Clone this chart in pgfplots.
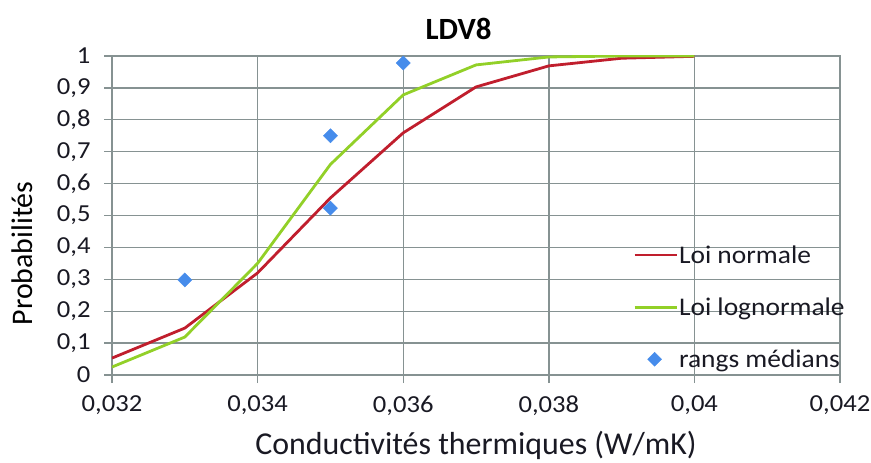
\documentclass[border=0pt]{standalone}
\usepackage{fontspec}
\setmainfont{Carlito}
\newfontfamily\tickfont[FakeStretch=1.09]{Carlito}
\newfontfamily\legfont[FakeStretch=1.08]{Carlito}
\usepackage{pgfplots}
\pgfplotsset{compat=1.18}

\definecolor{gridc}{RGB}{134,146,146}
\definecolor{loinorm}{RGB}{192,30,45}
\definecolor{loilog}{RGB}{146,208,40}
\definecolor{rangs}{RGB}{70,140,235}
\definecolor{txt}{RGB}{25,25,35}

\pgfplotsset{
  lineleg/.style={legend image code/.code={\draw[##1] (0bp,0bp) -- (42bp,0bp);}},
  markleg/.style={legend image code/.code={\draw[##1] plot coordinates {(20bp,0bp)};}},
}

\begin{document}
\begin{tikzpicture}
\begin{axis}[
  scale only axis,
  width=728bp, height=319bp,
  xmin=0.032, xmax=0.042, ymin=0, ymax=1,
  xtick={0.032,0.034,0.036,0.038,0.04,0.042},
  ytick={0,0.1,0.2,0.3,0.4,0.5,0.6,0.7,0.8,0.9,1},
  scaled x ticks=false,
  /pgf/number format/use comma,
  /pgf/number format/fixed,
  /pgf/number format/precision=3,
  /pgf/number format/assume math mode=true,
  grid=major,
  grid style={gridc, line width=1.4bp},
  axis line style={gridc, line width=1.4bp},
  tick style={gridc, line width=1.4bp},
  tick align=outside,
  major tick length=8bp,
  xtick pos=bottom, ytick pos=left,
  tick label style={font=\tickfont\fontsize{24.5}{29}\selectfont, text=txt},
  yticklabel style={xshift=-10bp},
  xticklabel style={yshift=-9bp},
  title={LDV8},
  title style={at={(rel axis cs:0.476,1)}, anchor=base, yshift=11bp,
    font=\fontsize{31}{36}\selectfont\bfseries, text=black},
  xlabel={Conductivités thermiques (W/mK)},
  xlabel style={at={(rel axis cs:0.5,0)}, anchor=base, yshift=-79bp,
    font=\fontsize{32}{36}\selectfont, text=txt},
  ylabel={Probabilités},
  ylabel style={at={(rel axis cs:0,0.381)}, anchor=base, yshift=79bp,
    font=\fontsize{30}{36}\selectfont, text=black},
  legend style={at={(rel axis cs:0.7157,0.41)}, anchor=north west,
    draw=none, fill=none, inner sep=0pt, row sep=31bp,
    font=\legfont\fontsize{25.5}{30}\selectfont,
    nodes={inner sep=1bp, text=txt}},
  legend cell align=left,
]
\addplot[loinorm, line width=2.8bp, lineleg] coordinates {
  (0.032,0.053) (0.033,0.147) (0.034,0.320) (0.035,0.555) (0.036,0.759)
  (0.037,0.903) (0.038,0.969) (0.039,0.993) (0.040,0.999)};
\addlegendentry{Loi normale}
\addplot[loilog, line width=2.8bp, lineleg] coordinates {
  (0.032,0.025) (0.033,0.119) (0.034,0.350) (0.035,0.660) (0.036,0.878)
  (0.037,0.972) (0.038,0.997) (0.039,1.000) (0.040,1.000)};
\addlegendentry{Loi lognormale}
\addplot[only marks, mark=square*, mark size=5bp,
  mark options={rotate=45, fill=rangs, draw=rangs}, markleg] coordinates {
  (0.033,0.298) (0.035,0.523) (0.035,0.750) (0.036,0.978)};
\addlegendentry{rangs médians}
\coordinate (BL) at ([xshift=-112bp,yshift=-88bp]rel axis cs:0,0);
\coordinate (TR) at ([xshift=31bp,yshift=56bp]rel axis cs:1,1);
\end{axis}
\pgfresetboundingbox
\path (BL) rectangle (TR);
\end{tikzpicture}
\end{document}
